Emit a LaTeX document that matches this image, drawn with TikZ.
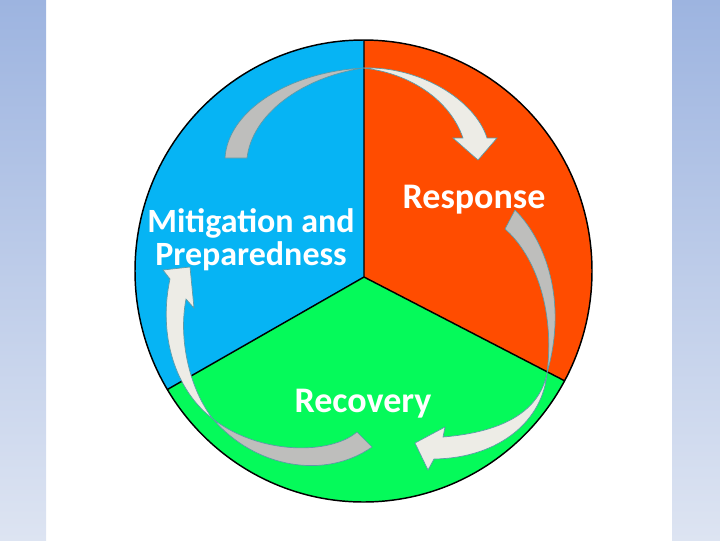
\documentclass[tikz,border=0pt]{standalone}
\usepackage{fontspec}
\setmainfont{Carlito}
\usepackage{tikz}
\usetikzlibrary{positioning}
\usepackage{xcolor}

\definecolor{mitblue}{HTML}{06B4F4}
\definecolor{resporange}{HTML}{FF4C00}
\definecolor{recgreen}{HTML}{05FA5A}
\definecolor{stripblue}{HTML}{9DB4E0}
\definecolor{striplight}{HTML}{DDE4F2}
\definecolor{arrowgray}{HTML}{BEBEBC}
\definecolor{arrowlight}{HTML}{EDECE6}
\definecolor{arrowedge}{HTML}{5C9AA8}

\begin{document}
\begin{tikzpicture}[
    x=0.75pt, y=-0.75pt,
    phase label/.style={text=white, font=\fontsize{27}{25}\selectfont\bfseries, align=center, inner sep=0pt},
    arrow tail/.style={fill=arrowgray, draw=arrowedge, line width=0.5pt},
    arrow head/.style={fill=arrowlight, draw=arrowedge, line width=0.5pt},
    rim/.style={draw=black, line width=1.1pt}
]
\useasboundingbox (0,0) rectangle (720,540);

% Background strips
\shade[top color=stripblue, bottom color=striplight] (0,0) rectangle (46,540);
\shade[top color=stripblue, bottom color=striplight] (672,0) rectangle (720,540);

% Sectors
\coordinate (hub) at (364,277);
\coordinate (top) at (364,0);
\coordinate (lowleft) at (73,443.5);
\coordinate (lowright) at (650,425);
\begin{scope}
  \clip (363.5,271) ellipse (228.5 and 231);
  \fill[mitblue] (hub) -- (top) -- (73,0) -- (lowleft) -- cycle;
  \fill[resporange] (hub) -- (top) -- (650,0) -- (lowright) -- cycle;
  \fill[recgreen] (hub) -- (lowleft) -- (73,520) -- (650,520) -- (lowright) -- cycle;
  \draw[rim] (hub) -- (top) (hub) -- (lowleft) (hub) -- (lowright);
\end{scope}
\draw[rim] (363.5,271) ellipse (228.5 and 231);

% Arrows
\draw[arrow tail] (225,158) .. controls (228,110) and (290,72) .. (363,68)
  .. controls (300,78) and (252,115) .. (247,158) -- cycle;
\draw[arrow head] (363,68) .. controls (420,66) and (475,100) .. (487,138)
  -- (497,138) -- (478,160) -- (453,138) -- (463,138)
  .. controls (450,100) and (410,73) .. (363,68) -- cycle;

\draw[arrow tail] (515,210) .. controls (545,240) and (568,300) .. (547,373)
  .. controls (555,310) and (535,255) .. (505,229) -- cycle;
\draw[arrow head] (547,373) .. controls (540,410) and (505,432) .. (443,437)
  -- (445,427) -- (415,443) -- (428,470) -- (434,459)
  .. controls (500,458) and (543,420) .. (547,373) -- cycle;

\draw[arrow tail] (357,432) .. controls (330,455) and (260,455) .. (213,419)
  .. controls (255,468) and (325,480) .. (372,447) -- cycle;
\draw[arrow head] (213,419) .. controls (175,390) and (158,335) .. (170,279)
  -- (163,270) -- (190,267) -- (194,308) -- (186,299)
  .. controls (178,340) and (190,390) .. (213,419) -- cycle;

% Nodes
\node[phase label, anchor=base] (response) at (474,208) {Response};
\node[phase label, anchor=base] (recovery) at (363,412) {Recovery};
\node[phase label, anchor=base, font=\fontsize{25.5}{24.75}\selectfont\bfseries] (mitigation) at (251,265) {Mitigation and\\Preparedness};

\end{tikzpicture}
\end{document}
